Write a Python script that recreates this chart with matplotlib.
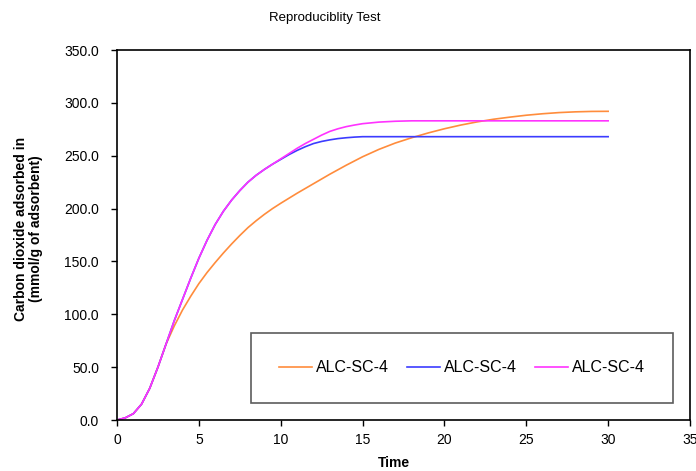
import matplotlib
matplotlib.use("Agg")
import matplotlib.pyplot as plt
from matplotlib.ticker import FormatStrFormatter

plt.rcParams['font.family'] = ['Liberation Sans', 'DejaVu Sans']

# Shared rising part (all runs coincide up to ~t=3)
t_common = [0, 0.5, 1, 1.5, 2, 2.5, 3]
v_common = [0, 2, 6, 15, 30, 50, 72]

# Run 1 (orange)
t_orange = t_common + [3.5, 4, 4.5, 5, 5.5, 6, 6.5, 7, 7.5, 8, 8.5, 9, 9.5, 10, 11, 12, 13, 14, 15,
                       16, 17, 18, 19, 20, 21, 22, 23, 24, 25, 26, 27, 28, 29, 30]
v_orange = v_common + [89, 104, 117, 129, 139.5, 149, 158, 166.5, 174.5, 182, 188.5, 194.5, 200, 205,
                       214.5, 223.5, 232.5, 241, 249, 256, 262, 267, 271.5, 275.5, 279, 282, 284.5,
                       286.5, 288.3, 289.7, 290.8, 291.5, 291.9, 292]

# Run 2 (blue)
t_blue = t_common + [3.5, 4, 4.5, 5, 5.5, 6, 6.5, 7, 7.5, 8, 8.5, 9, 9.5, 10, 10.5, 11, 11.5, 12,
                     12.5, 13, 13.5, 14, 14.5, 15, 16, 18, 20, 22, 24, 26, 28, 30]
v_blue = v_common + [94, 114, 134, 153, 170, 185, 197.5, 208, 217, 225, 231.5, 237, 242, 246.5, 251,
                     255, 258.5, 261.5, 263.5, 265, 266.2, 267, 267.6, 268, 268, 268, 268, 268, 268,
                     268, 268, 268]

# Run 3 (magenta)
t_mag = t_common + [3.5, 4, 4.5, 5, 5.5, 6, 6.5, 7, 7.5, 8, 8.5, 9, 9.5, 10, 10.5, 11, 11.5, 12,
                    12.5, 13, 13.5, 14, 14.5, 15, 16, 17, 18, 20, 22, 24, 26, 28, 30]
v_mag = v_common + [94, 114, 134, 153, 170, 185, 197.5, 208, 217, 225, 231.5, 237, 242, 247, 252,
                    257, 261.5, 265.5, 269.5, 273, 275.5, 277.5, 279, 280.3, 281.8, 282.6, 283, 283,
                    283, 283, 283, 283, 283]

labels = ['ALC-SC-4', 'ALC-SC-4', 'ALC-SC-4']
colors = ['#FF8C3C', '#3C3CFF', '#FF33FF']

x_ticks = [0, 5, 10, 15, 20, 25, 30, 35]
y_ticks = [0, 50, 100, 150, 200, 250, 300, 350]

fig = plt.figure(figsize=(6.96, 4.71), dpi=100)
ax = fig.add_axes([117/696, 1-420/471, (690-117)/696, (420-50)/471])

ax.plot(t_orange, v_orange, color=colors[0], lw=1.2, label=labels[0])
ax.plot(t_blue, v_blue, color=colors[1], lw=1.2, label=labels[1])
ax.plot(t_mag, v_mag, color=colors[2], lw=1.2, label=labels[2])

ax.set_xlim(0, 35)
ax.set_ylim(0, 350)
ax.set_xticks(x_ticks)
ax.set_yticks(y_ticks)
ax.yaxis.set_major_formatter(FormatStrFormatter('%.1f'))
ax.tick_params(direction='out', length=4, width=1, labelsize=10)
ax.tick_params(axis='y', pad=9)
ax.tick_params(axis='x', pad=5)
for s in ax.spines.values():
    s.set_linewidth(1.2)
    s.set_color('black')

ax.set_xlabel('Time', fontsize=10, fontweight='bold')
ax.xaxis.set_label_coords((393.5-117)/573, -(456-420)/370)
ax.set_ylabel('Carbon dioxide adsorbed in\n(mmol/g of adsorbent)', fontsize=10,
              fontweight='bold', linespacing=1.05)
ax.yaxis.set_label_coords((43-117)/573, (420-229)/370)
fig.text(325/696, 1-18/471, 'Reproduciblity Test', ha='center', va='center', fontsize=9.5)

cx = ((252+672)/2 - 117)/573
cy = (420-(333+403)/2)/370
leg = ax.legend(loc='center', bbox_to_anchor=(cx, cy), ncol=3,
                frameon=True, fancybox=False, fontsize=11.5, handlelength=2.1,
                borderpad=1.7, handletextpad=0.25, columnspacing=1.1, borderaxespad=0)
leg.get_frame().set_edgecolor('#333333')
leg.get_frame().set_linewidth(1.2)

fig.savefig('out.png', dpi=100)
